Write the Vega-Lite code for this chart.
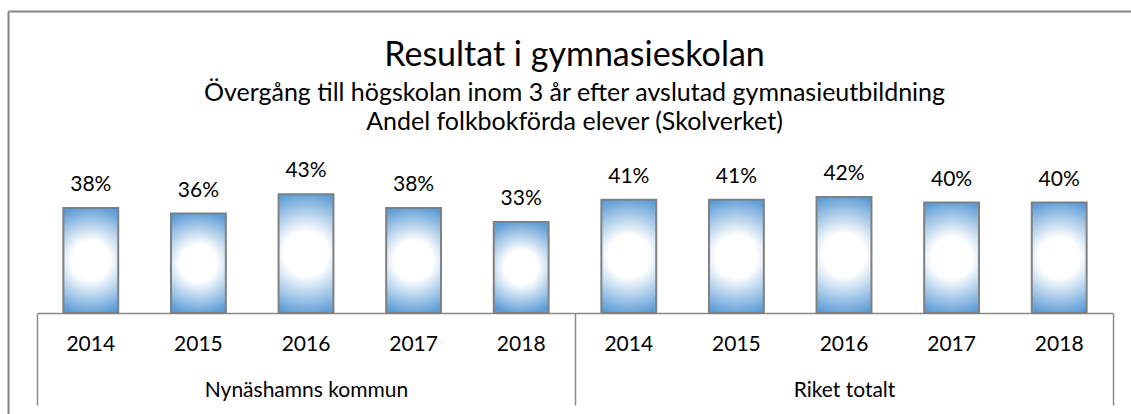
{
  "$schema": "https://vega.github.io/schema/vega-lite/v6.json",
  "autosize": "none",
  "width": 1123,
  "height": 403,
  "padding": {"left": 8, "top": 11, "right": 0, "bottom": 0},
  "background": "white",
  "config": {"view": {"stroke": null}, "font": "Lato"},
  "title": {
    "text": "Resultat i gymnasieskolan",
    "subtitle": ["Övergång till högskolan inom 3 år efter avslutad gymnasieutbildning", "Andel folkbokförda elever (Skolverket)"],
    "anchor": "middle",
    "frame": "group",
    "orient": "top",
    "offset": -124,
    "dx": 5,
    "fontSize": 34,
    "fontWeight": "normal",
    "font": "Lato",
    "color": "black",
    "subtitleFont": "Lato",
    "subtitleFontSize": 25,
    "subtitleColor": "black",
    "subtitlePadding": 8,
    "subtitleLineHeight": 29
  },
  "layer": [
    {
      "data": {"values": [
        {"key": "N-2014", "group": "Nynäshamns kommun", "year": "2014", "value": 0.38},
        {"key": "N-2015", "group": "Nynäshamns kommun", "year": "2015", "value": 0.36},
        {"key": "N-2016", "group": "Nynäshamns kommun", "year": "2016", "value": 0.43},
        {"key": "N-2017", "group": "Nynäshamns kommun", "year": "2017", "value": 0.38},
        {"key": "N-2018", "group": "Nynäshamns kommun", "year": "2018", "value": 0.33},
        {"key": "R-2014", "group": "Riket totalt", "year": "2014", "value": 0.41},
        {"key": "R-2015", "group": "Riket totalt", "year": "2015", "value": 0.41},
        {"key": "R-2016", "group": "Riket totalt", "year": "2016", "value": 0.42},
        {"key": "R-2017", "group": "Riket totalt", "year": "2017", "value": 0.40},
        {"key": "R-2018", "group": "Riket totalt", "year": "2018", "value": 0.40}
      ]},
      "encoding": {
        "x": {
          "field": "key", "type": "nominal", "sort": null,
          "scale": {"type": "band", "range": [29, 1105], "paddingInner": 0.49, "paddingOuter": 0.245},
          "axis": {
            "orient": "bottom", "offset": -101, "title": null,
            "domain": true, "domainColor": "#898989", "domainWidth": 1.5,
            "ticks": false, "labelAngle": 0, "labelPadding": 20,
            "labelExpr": "substring(datum.label, 2)",
            "labelFont": "Lato", "labelFontSize": 21, "labelColor": "black"
          }
        },
        "y": {
          "field": "value", "type": "quantitative",
          "scale": {"domain": [-0.366, 1.094], "nice": false, "zero": false},
          "axis": {"orient": "left", "title": null, "domain": true, "domainColor": "#868686", "domainWidth": 2, "ticks": false, "labels": false, "grid": false}
        }
      },
      "layer": [
        {
          "mark": {
            "type": "bar",
            "stroke": "#808080",
            "strokeWidth": 2,
            "fill": {
              "gradient": "radial",
              "x1": 0.5, "y1": 0.5, "r1": 0,
              "x2": 0.5, "y2": 0.5, "r2": 0.62,
              "stops": [
                {"offset": 0, "color": "#ffffff"},
                {"offset": 0.3, "color": "#ffffff"},
                {"offset": 0.85, "color": "#5b9bd5"},
                {"offset": 1, "color": "#5b9bd5"}
              ]
            }
          },
          "encoding": {"y2": {"datum": 0}}
        },
        {
          "mark": {"type": "text", "dy": -17, "baseline": "alphabetic", "font": "Lato", "fontSize": 21, "color": "black"},
          "encoding": {"text": {"field": "value", "type": "quantitative", "format": ".0%"}}
        }
      ]
    },
    {
      "data": {"values": [{"group": "Nynäshamns kommun"}, {"group": "Riket totalt"}]},
      "mark": {"type": "rule", "opacity": 0},
      "encoding": {
        "x": {
          "field": "group", "type": "nominal", "sort": null,
          "scale": {"type": "band", "range": [29, 1105], "paddingInner": 0, "paddingOuter": 0},
          "axis": {
            "orient": "bottom", "offset": -101, "title": null,
            "domain": false, "ticks": true, "tickBand": "extent", "tickSize": 92,
            "tickColor": "#898989", "tickWidth": 1.5,
            "labelPadding": -26, "labelAngle": 0, "labelLimit": 0,
            "labelFont": "Lato", "labelFontSize": 21, "labelColor": "black"
          }
        }
      }
    },
    {
      "data": {"values": [{"b": "a"}]},
      "mark": {"type": "rule", "opacity": 0},
      "encoding": {
        "x": {
          "field": "b", "type": "nominal",
          "scale": {"type": "point", "range": [0, 1123]},
          "axis": {"orient": "top", "title": null, "domain": true, "domainColor": "#868686", "domainWidth": 2, "ticks": false, "labels": false}
        }
      }
    }
  ],
  "resolve": {"scale": {"x": "independent"}, "axis": {"x": "independent"}}
}
